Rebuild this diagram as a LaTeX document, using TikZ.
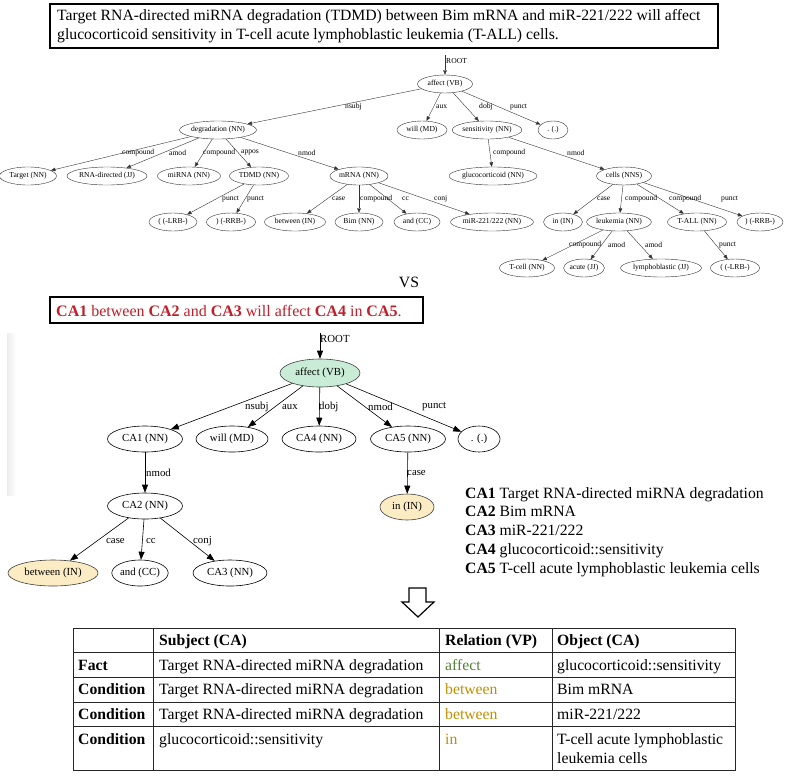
\documentclass[tikz,border=0pt]{standalone}
\usepackage{fontspec}
\setmainfont{Liberation Serif}
\usetikzlibrary{shapes.geometric,arrows.meta}
\definecolor{cared}{RGB}{192,30,40}
\definecolor{affgreen}{RGB}{84,130,53}
\definecolor{betgold}{RGB}{191,144,0}
\definecolor{nodegreen}{RGB}{200,236,214}
\definecolor{nodeyellow}{RGB}{252,236,196}
\tikzset{
  tn/.style={ellipse, draw=black!80, line width=0.4pt, inner sep=0pt, minimum height=18pt, font=\fontsize{7.6}{8}\selectfont},
  te/.style={draw=black!80, line width=0.4pt, -{Triangle[length=4.5pt,width=3.6pt]}},
  tl/.style={font=\fontsize{7.6}{8}\selectfont, inner sep=0pt, anchor=west},
  sn/.style={ellipse, draw=black, line width=0.6pt, inner sep=0pt, minimum height=26pt, font=\fontsize{10.8}{12}\selectfont},
  se/.style={draw=black, line width=0.6pt, -{Triangle[length=8pt,width=6pt]}},
  sl/.style={font=\fontsize{10.8}{12}\selectfont, inner sep=0pt, anchor=west},
  big/.style={font=\fontsize{15.7}{18}\selectfont, inner sep=0pt, anchor=base west},
  tbox/.style={draw=black, line width=1.8pt},
}
\begin{document}
\begin{tikzpicture}[x=1pt,y=-1pt]
\useasboundingbox (0,0) rectangle (789,777);
% ---------------- top sentence box
\draw[tbox] (50,4) rectangle (718,48);
\node[big] (s1a) at (57,20.5) {Target RNA-directed miRNA degradation (TDMD) between Bim mRNA and miR-221/222 will affect};
\node[big] (s1b) at (57,39.5) {glucocorticoid sensitivity in T-cell acute lymphoblastic leukemia (T-ALL) cells.};
% ---------------- top tree
\coordinate (troot) at (445,55);
\node[tn, minimum width=55] (ta) at (445,84) {affect (VB)};
\node[tn, minimum width=50] (twill) at (422,130) {will (MD)};
\node[tn, minimum width=60] (tsens) at (487,130) {sensitivity (NN)};
\node[tn, minimum width=30] (tdot) at (553,130) {. (.)};
\node[tn, minimum width=77] (tdeg) at (218,130) {degradation (NN)};
\node[tn, minimum width=88] (tgluc) at (493,176) {glucocorticoid (NN)};
\node[tn, minimum width=55] (tcells) at (624,176) {cells (NNS)};
\node[tn, minimum width=57] (ttarget) at (28,176) {Target (NN)};
\node[tn, minimum width=80] (trna) at (107,176) {RNA-directed (JJ)};
\node[tn, minimum width=63] (tmirna) at (189,176) {miRNA (NN)};
\node[tn, minimum width=59] (ttdmd) at (259,176) {TDMD (NN)};
\node[tn, minimum width=58] (tmrna) at (359,176) {mRNA (NN)};
\node[tn, minimum width=48] (tlrb) at (173,222) {( (-LRB-)};
\node[tn, minimum width=49] (trrb) at (231,222) {) (-RRB-)};
\node[tn, minimum width=61] (tbetw) at (295,222) {between (IN)};
\node[tn, minimum width=48] (tbim) at (359,222) {Bim (NN)};
\node[tn, minimum width=46] (tand) at (417,222) {and (CC)};
\node[tn, minimum width=83] (tmir) at (492,222) {miR-221/222 (NN)};
\node[tn, minimum width=39] (tin) at (563,222) {in (IN)};
\node[tn, minimum width=57] (tleuk) at (619,222) {leukemia (NN)};
\node[tn, minimum width=59] (ttall) at (697,222) {T-ALL (NN)};
\node[tn, minimum width=46] (trrbb) at (760,222) {) (-RRB-)};
\node[tn, minimum width=55] (ttcell) at (527,268) {T-cell (NN)};
\node[tn, minimum width=39] (tacute) at (584,268) {acute (JJ)};
\node[tn, minimum width=81] (tlymph) at (661,268) {lymphoblastic (JJ)};
\node[tn, minimum width=49] (tlrbb) at (735,268) {( (-LRB-)};
\draw[te] (troot) -- (ta);
\draw[te] (ta) -- (tdeg);
\draw[te] (ta) -- (twill);
\draw[te] (ta) -- (tsens);
\draw[te] (ta) -- (tdot);
\draw[te] (tdeg) -- (ttarget);
\draw[te] (tdeg) -- (trna);
\draw[te] (tdeg) -- (tmirna);
\draw[te] (tdeg) -- (ttdmd);
\draw[te] (tdeg) -- (tmrna);
\draw[te] (tsens) -- (tgluc);
\draw[te] (tsens) -- (tcells);
\draw[te] (ttdmd) -- (tlrb);
\draw[te] (ttdmd) -- (trrb);
\draw[te] (tmrna) -- (tbetw);
\draw[te] (tmrna) -- (tbim);
\draw[te] (tmrna) -- (tand);
\draw[te] (tmrna) -- (tmir);
\draw[te] (tcells) -- (tin);
\draw[te] (tcells) -- (tleuk);
\draw[te] (tcells) -- (ttall);
\draw[te] (tcells) -- (trrbb);
\draw[te] (tleuk) -- (ttcell);
\draw[te] (tleuk) -- (tacute);
\draw[te] (tleuk) -- (tlymph);
\draw[te] (ttall) -- (tlrbb);
% top edge labels
\node[tl] (lroot) at (446,61) {ROOT};
\node[tl] (l1) at (345,107) {nsubj};
\node[tl] (l2) at (436,107) {aux};
\node[tl] (l3) at (479,107) {dobj};
\node[tl] (l4) at (510,107) {punct};
\node[tl] (l5) at (493,153) {compound};
\node[tl] (l6) at (567,153) {nmod};
\node[tl] (l7) at (122,153) {compound};
\node[tl] (l8) at (169,153) {amod};
\node[tl] (l9) at (203,153) {compound};
\node[tl] (l10) at (241,153) {appos};
\node[tl] (l11) at (298,153) {nmod};
\node[tl] (l12) at (222,199) {punct};
\node[tl] (l13) at (247,199) {punct};
\node[tl] (l14) at (332,199) {case};
\node[tl] (l15) at (360,199) {compound};
\node[tl] (l16) at (402,199) {cc};
\node[tl] (l17) at (434,199) {conj};
\node[tl] (l18) at (597,199) {case};
\node[tl] (l19) at (625,199) {compound};
\node[tl] (l20) at (669,199) {compound};
\node[tl] (l21) at (721,199) {punct};
\node[tl] (l22) at (569,245) {compound};
\node[tl] (l23) at (608,245) {amod};
\node[tl] (l24) at (645,245) {amod};
\node[tl] (l25) at (719,245) {punct};
% ---------------- VS
\node[font=\fontsize{15.7}{18}\selectfont, inner sep=0pt, anchor=base] (vs) at (409,287) {VS};
% ---------------- second sentence box
\draw[tbox] (50,297) rectangle (423,323);
\node[big, font=\fontsize{16}{18}\selectfont, text=cared] (s2) at (56,316.7) {\textbf{CA1} between \textbf{CA2} and \textbf{CA3} will affect \textbf{CA4} in \textbf{CA5}.};
% faint shadow at left of the second tree
\shade[left color=black!7, right color=white] (7,333) rectangle (16,495);
% ---------------- second tree
\coordinate (sroot) at (320,333);
\node[sn, minimum width=80, minimum height=28, fill=nodegreen, draw=black!75] (sa) at (320,373) {affect (VB)};
\node[sn, minimum width=75] (sca1) at (145,439) {CA1 (NN)};
\node[sn, minimum width=72] (swill) at (232,439) {will (MD)};
\node[sn, minimum width=74] (sca4) at (319,439) {CA4 (NN)};
\node[sn, minimum width=75] (sca5) at (408,439) {CA5 (NN)};
\node[sn, minimum width=42] (sdot) at (479,439) {. (.)};
\node[sn, minimum width=75] (sca2) at (145,506) {CA2 (NN)};
\node[sn, minimum width=54, fill=nodeyellow, draw=black!75] (sin) at (407,507) {in (IN)};
\node[sn, minimum width=90, fill=nodeyellow, draw=black!75] (sbet) at (53,573) {between (IN)};
\node[sn, minimum width=56] (sand) at (140,573) {and (CC)};
\node[sn, minimum width=74] (sca3) at (230,573) {CA3 (NN)};
\draw[se] (sroot) -- (sa);
\draw[se] (sa) -- (sca1);
\draw[se] (sa) -- (swill);
\draw[se] (sa) -- (sca4);
\draw[se] (sa) -- (sca5);
\draw[se] (sa) -- (sdot);
\draw[se] (sca1) -- (sca2);
\draw[se] (sca5) -- (sin);
\draw[se] (sca2) -- (sbet);
\draw[se] (sca2) -- (sand);
\draw[se] (sca2) -- (sca3);
\node[sl] (m0) at (320,339) {ROOT};
\node[sl] (m1) at (245,407) {nsubj};
\node[sl] (m2) at (282,407) {aux};
\node[sl] (m3) at (319,407) {dobj};
\node[sl] (m4) at (368,407) {nmod};
\node[sl] (m5) at (422,407) {punct};
\node[sl] (m6) at (146,473) {nmod};
\node[sl] (m7) at (407,473) {case};
\node[sl] (m8) at (106,541) {case};
\node[sl] (m9) at (146,541) {cc};
\node[sl] (m10) at (193,541) {conj};
% ---------------- legend
\node[big] (g1) at (465,498) {\textbf{CA1} Target RNA-directed miRNA degradation};
\node[big] (g2) at (465,516.75) {\textbf{CA2} Bim mRNA};
\node[big] (g3) at (465,535.5) {\textbf{CA3} miR-221/222};
\node[big] (g4) at (465,554.25) {\textbf{CA4} glucocorticoid::sensitivity};
\node[big] (g5) at (465,573) {\textbf{CA5} T-cell acute lymphoblastic leukemia cells};
% ---------------- hollow arrow
\draw[line width=1.2pt, line join=miter, fill=white] (409,588) -- (426,588) -- (426,602) -- (434,602) -- (418,617) -- (402,602) -- (409,602) -- cycle;
% ---------------- table
\draw[line width=0.8pt, black!85] (73,628) rectangle (735,770);
\foreach \yy in {652,677,702,726} \draw[line width=0.8pt, black!85] (73,\yy) -- (735,\yy);
\foreach \xx in {153,439,552} \draw[line width=0.8pt, black!85] (\xx,628) -- (\xx,770);
\node[big] (h2) at (159,645.5) {\textbf{Subject (CA)}};
\node[big] (h3) at (445,645.5) {\textbf{Relation (VP)}};
\node[big] (h4) at (557,645.5) {\textbf{Object (CA)}};
\node[big] (r1a) at (78,670) {\textbf{Fact}};
\node[big] (r1b) at (159,670) {Target RNA-directed miRNA degradation};
\node[big, text=affgreen] (r1c) at (445,670) {affect};
\node[big] (r1d) at (557,670) {glucocorticoid::sensitivity};
\node[big] (r2a) at (78,694.5) {\textbf{Condition}};
\node[big] (r2b) at (159,694.5) {Target RNA-directed miRNA degradation};
\node[big, text=betgold] (r2c) at (445,694.5) {between};
\node[big] (r2d) at (557,694.5) {Bim mRNA};
\node[big] (r3a) at (78,719) {\textbf{Condition}};
\node[big] (r3b) at (159,719) {Target RNA-directed miRNA degradation};
\node[big, text=betgold] (r3c) at (445,719) {between};
\node[big] (r3d) at (557,719) {miR-221/222};
\node[big] (r4a) at (78,744) {\textbf{Condition}};
\node[big] (r4b) at (159,744) {glucocorticoid::sensitivity};
\node[big, text=betgold] (r4c) at (445,744) {in};
\node[big] (r4d) at (557,744) {T-cell acute lymphoblastic};
\node[big] (r4e) at (557,763.5) {leukemia cells};
\end{tikzpicture}
\end{document}
